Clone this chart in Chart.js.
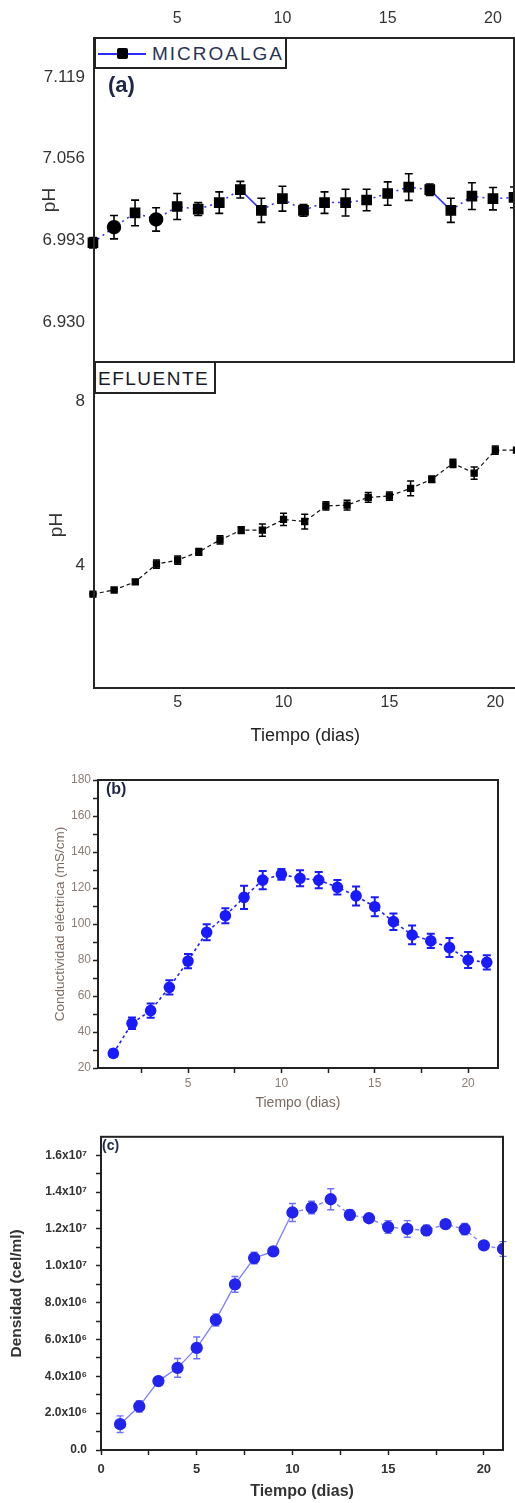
<!DOCTYPE html>
<html>
<head>
<meta charset="utf-8">
<script src="https://cdn.jsdelivr.net/npm/chart.js@4.4.0/dist/chart.umd.min.js"></script>
<style>
body { margin: 0; background: #fff; }
#wrap { position: relative; width: 515px; height: 1503px; overflow: hidden; background: #fff; font-family: 'Liberation Sans', Arial, sans-serif; }
.pane { position: absolute; left: 0; }
.lbl { position: absolute; font-weight: bold; color: #1f2748; }
.box { position: absolute; border: 2px solid #222; background: #fff; box-sizing: border-box; white-space: nowrap; }
</style>
</head>
<body>
<div id="wrap">
  <div class="pane" style="top:0;width:522px;height:372px"><canvas id="cMicro" width="522" height="372"></canvas></div>
  <div class="pane" style="top:352px;width:522px;height:408px"><canvas id="cEflu" width="522" height="408"></canvas></div>
  <div class="pane" style="top:760px;width:515px;height:360px"><canvas id="cCond" width="515" height="360"></canvas></div>
  <div class="pane" style="top:1130px;width:515px;height:373px"><canvas id="cDens" width="515" height="373"></canvas></div>

  <div class="box" style="left:94px;top:37px;width:193px;height:32px">
    <span style="position:absolute;left:2px;top:14px;width:48px;height:2px;background:#2c2cff"></span>
    <span style="position:absolute;left:21px;top:9px;width:11px;height:11px;background:#000;border-radius:2px"></span>
    <span style="position:absolute;left:56px;top:4px;font-size:19px;letter-spacing:2px;color:#2b3352">MICROALGA</span>
  </div>
  <div class="box" style="left:94px;top:361px;width:122px;height:33px">
    <span style="position:absolute;left:2px;top:5px;font-size:19px;letter-spacing:1.5px;color:#1a1a2a">EFLUENTE</span>
  </div>
  <div class="lbl" style="left:108px;top:72px;font-size:22px">(a)</div>
  <div class="lbl" style="left:106px;top:780px;font-size:16px">(b)</div>
  <div class="lbl" style="left:102px;top:1137px;font-size:14px">(c)</div>
</div>

<script>
// days of culture
const days = [1, 2, 3, 4, 5, 6, 7, 8, 9, 10, 11, 12, 13, 14, 15, 16, 17, 18, 19, 20, 21];

// (a) pH - microalga
const phMicro = [6.991, 7.003, 7.014, 7.009, 7.019, 7.017, 7.022, 7.032, 7.016, 7.025, 7.016,
                 7.022, 7.022, 7.024, 7.029, 7.034, 7.032, 7.016, 7.027, 7.025, 7.026];
const phMicroErr = [0.004, 0.009, 0.0099, 0.009, 0.010, 0.005, 0.0083, 0.0064, 0.0093, 0.0096, 0.0045,
                    0.0083, 0.0103, 0.0083, 0.009, 0.0103, 0.0044, 0.0093, 0.0103, 0.0086, 0.008];
const phMicroTicks = [6.930, 6.993, 7.056, 7.119];

// (a) pH - efluente
const phEflu = [3.29, 3.39, 3.59, 4.02, 4.12, 4.32, 4.61, 4.85, 4.85, 5.11, 5.06,
                5.44, 5.46, 5.65, 5.68, 5.87, 6.09, 6.48, 6.24, 6.80, 6.80];
const phEfluErr = [0.02, 0.03, 0.05, 0.1, 0.1, 0.08, 0.1, 0.08, 0.15, 0.15, 0.18,
                   0.1, 0.12, 0.12, 0.1, 0.18, 0.08, 0.1, 0.15, 0.1, 0.05];
const phEfluTicks = [4, 8];
const dayTicksA = [5, 10, 15, 20];

// (b) conductividad
const cond = [28.1, 44.8, 51.9, 64.8, 79.4, 95.4, 104.6, 114.8, 124.4, 127.6, 125.4,
              124.4, 120.4, 115.6, 109.6, 101.3, 93.9, 90.6, 86.9, 80.0, 78.7];
const condErr = [2, 3.2, 4, 4, 4, 4.4, 4.2, 6.5, 5.1, 3, 4.4,
                 4.5, 4, 5.3, 5.3, 4.6, 5.2, 4, 5.3, 4.4, 4];
const condTicks = [20, 40, 60, 80, 100, 120, 140, 160, 180];
const condMinor = [30, 50, 70, 90, 110, 130, 150, 170];
const dayTicks = [5, 10, 15, 20];
const dayMinor = [2.5, 7.5, 12.5, 17.5];

// (c) densidad
const dens = [1.40e6, 2.37e6, 3.74e6, 4.46e6, 5.54e6, 7.06e6, 8.99e6, 1.042e7, 1.078e7, 1.289e7, 1.316e7,
              1.361e7, 1.276e7, 1.258e7, 1.210e7, 1.200e7, 1.192e7, 1.226e7, 1.199e7, 1.111e7, 1.091e7];
const densErr = [4.5e5, 3.1e5, 2.2e5, 5.1e5, 5.9e5, 3.3e5, 4.3e5, 3.1e5, 1.8e5, 4.9e5, 3.4e5,
                 5.7e5, 2.8e5, 2.0e5, 3.4e5, 4.5e5, 2.8e5, 2.4e5, 3.1e5, 2.2e5, 4.0e5];
const densTicks = [0, 2e6, 4e6, 6e6, 8e6, 1e7, 1.2e7, 1.4e7, 1.6e7];
const densLabels = ['0.0', '2.0x10⁶', '4.0x10⁶', '6.0x10⁶', '8.0x10⁶', '1.0x10⁷', '1.2x10⁷', '1.4x10⁷', '1.6x10⁷'];
const densMinor = [1e6, 3e6, 5e6, 7e6, 9e6, 1.1e7, 1.3e7, 1.5e7];
const densDayTicks = [0, 5, 10, 15, 20];

Chart.defaults.font.family = "'Liberation Sans', Arial, sans-serif";
Chart.defaults.animation = false;

function pts(vals) {
    return days.map((d, i) => ({ x: d, y: vals[i] }));
}
function setTicks(list) {
    return axis => { axis.ticks = list.slice().sort((a, b) => a - b).map(v => ({ value: v })); };
}
// fixed axis size, no extra room for overhanging labels
function fixW(w) {
    return a => { a.width = w; a.paddingTop = 0; a.paddingBottom = 0; };
}
function fixH(h) {
    return a => { a.height = h; a.paddingLeft = 0; a.paddingRight = 0; };
}

// vertical error bars drawn through the chart's scales
const errorBars = {
    id: 'errorBars',
    beforeDatasetsDraw(chart) {
        const { ctx, scales: { x, y } } = chart;
        chart.data.datasets.forEach(ds => {
            if (!ds.errors) return;
            ctx.save();
            ctx.strokeStyle = ds.errorColor;
            ctx.lineWidth = ds.errorWidth;
            const cap = ds.errorCap;
            ds.data.forEach((p, i) => {
                const px = x.getPixelForValue(p.x);
                const top = y.getPixelForValue(p.y + ds.errors[i]);
                const bot = y.getPixelForValue(p.y - ds.errors[i]);
                ctx.beginPath();
                ctx.moveTo(px, top); ctx.lineTo(px, bot);
                ctx.moveTo(px - cap, top); ctx.lineTo(px + cap, top);
                ctx.moveTo(px - cap, bot); ctx.lineTo(px + cap, bot);
                ctx.stroke();
            });
            ctx.restore();
        });
    }
};

// box round the plot area
const frame = {
    id: 'frame',
    afterDraw(chart, args, opts) {
        const a = chart.chartArea;
        const ctx = chart.ctx;
        ctx.save();
        ctx.strokeStyle = opts.color || '#222';
        ctx.lineWidth = opts.width || 2;
        ctx.strokeRect(a.left, a.top, a.right - a.left, a.bottom - a.top);
        ctx.restore();
    }
};

// (a) top: microalga
new Chart(document.getElementById('cMicro'), {
    type: 'line',
    data: {
        datasets: [{
            data: pts(phMicro),
            errors: phMicroErr, errorColor: '#000', errorWidth: 1.6, errorCap: 4,
            borderColor: '#3030ff', borderWidth: 1.5, borderDash: [2, 4],
            segment: { borderDash: c => [7, 16].includes(c.p0DataIndex) ? [] : [2, 4] },
            pointStyle: c => [1, 3].includes(c.dataIndex) ? 'circle' : 'rect',
            pointRadius: 6.5, pointBackgroundColor: '#000', pointBorderColor: '#000',
            clip: false
        }]
    },
    options: {
        responsive: false,
        layout: { padding: { top: 0, right: 2.5, bottom: 10, left: 0 } },
        plugins: { legend: { display: false }, tooltip: { enabled: false }, frame: { color: '#262626', width: 2 } },
        scales: {
            x: {
                type: 'linear', position: 'top', min: 1.05, max: 21,
                afterBuildTicks: setTicks(dayTicksA),
                afterFit: fixH(38),
                grid: { display: false, drawTicks: false }, border: { display: false },
                ticks: { font: { size: 16 }, color: '#333', padding: 10, maxRotation: 0 }
            },
            y: {
                min: 6.899, max: 7.149,
                afterBuildTicks: setTicks(phMicroTicks),
                afterFit: fixW(94),
                grid: { display: false, drawTicks: false }, border: { display: false },
                ticks: { callback: v => v.toFixed(3), font: { size: 17 }, color: '#333', padding: 9 },
                title: { display: true, text: 'pH', font: { size: 19 }, color: '#333', padding: { top: 38 } }
            }
        }
    },
    plugins: [errorBars, frame]
});

// (a) bottom: efluente
new Chart(document.getElementById('cEflu'), {
    type: 'line',
    data: {
        datasets: [{
            data: pts(phEflu),
            errors: phEfluErr, errorColor: '#000', errorWidth: 1.5, errorCap: 3.5,
            borderColor: '#111', borderWidth: 1.2, borderDash: [4, 3],
            pointStyle: 'rect', pointRadius: 4.3, pointBackgroundColor: '#000', pointBorderColor: '#000',
            clip: false
        }]
    },
    options: {
        responsive: false,
        layout: { padding: { top: 10, right: 2.5, bottom: 0, left: 0 } },
        plugins: { legend: { display: false }, tooltip: { enabled: false }, frame: { color: '#262626', width: 2 } },
        scales: {
            x: {
                type: 'linear', min: 1.05, max: 21,
                afterBuildTicks: setTicks(dayTicksA),
                afterFit: fixH(72),
                grid: { display: false, drawTicks: false }, border: { display: false },
                ticks: { font: { size: 16 }, color: '#333', padding: 5, maxRotation: 0 },
                title: { display: true, text: 'Tiempo (dias)', font: { size: 18 }, color: '#222', padding: { bottom: 13 } }
            },
            y: {
                min: 1, max: 8.95,
                afterBuildTicks: setTicks(phEfluTicks),
                afterFit: fixW(94),
                grid: { display: false, drawTicks: false }, border: { display: false },
                ticks: { font: { size: 17 }, color: '#333', padding: 9 },
                title: { display: true, text: 'pH', font: { size: 19 }, color: '#333', padding: { top: 45 } }
            }
        }
    },
    plugins: [errorBars, frame]
});

// (b) conductividad electrica
new Chart(document.getElementById('cCond'), {
    type: 'line',
    data: {
        datasets: [{
            data: pts(cond),
            errors: condErr, errorColor: '#1a1aff', errorWidth: 2, errorCap: 4,
            borderColor: '#2020ff', borderWidth: 1.6, borderDash: [3, 3],
            pointStyle: 'circle', pointRadius: 5, pointBackgroundColor: '#1a1aff', pointBorderColor: '#1a1aff'
        }]
    },
    options: {
        responsive: false,
        layout: { padding: { top: 20, right: 17, bottom: 0, left: 0 } },
        plugins: { legend: { display: false }, tooltip: { enabled: false }, frame: { color: '#222', width: 2 } },
        scales: {
            x: {
                type: 'linear', min: 0.18, max: 21.6,
                afterBuildTicks: setTicks(dayTicks.concat(dayMinor)),
                afterFit: fixH(52),
                grid: { drawOnChartArea: false, drawTicks: true, tickLength: 5, tickColor: '#222', tickWidth: 1.5 },
                border: { display: false },
                ticks: { callback: v => dayTicks.includes(v) ? v : '', font: { size: 12 }, color: '#8a7d75', padding: 3, maxRotation: 0, autoSkip: false },
                title: { display: true, text: 'Tiempo (dias)', font: { size: 14 }, color: '#7a6a60', padding: { bottom: 8 } }
            },
            y: {
                min: 20, max: 180,
                afterBuildTicks: setTicks(condTicks.concat(condMinor)),
                afterFit: fixW(98),
                grid: { drawOnChartArea: false, drawTicks: true, tickLength: 5, tickColor: '#222', tickWidth: 1.5 },
                border: { display: false },
                ticks: { callback: v => condTicks.includes(v) ? v : '', font: { size: 12 }, color: '#8a7d75', padding: 2, autoSkip: false },
                title: { display: true, text: 'Conductividad eléctrica (mS/cm)', font: { size: 13.5 }, color: '#7a6a60', padding: { top: 52 } }
            }
        }
    },
    plugins: [errorBars, frame]
});

// (c) densidad celular
new Chart(document.getElementById('cDens'), {
    type: 'line',
    data: {
        datasets: [{
            data: pts(dens),
            errors: densErr, errorColor: '#7070ff', errorWidth: 1.4, errorCap: 3.5,
            borderColor: '#7d7dff', borderWidth: 1.3,
            segment: { borderDash: c => c.p0DataIndex >= 9 ? [4, 3] : [] },
            pointStyle: 'circle', pointRadius: 5.5, pointBackgroundColor: '#2323ee', pointBorderColor: '#2323ee'
        }]
    },
    options: {
        responsive: false,
        layout: { padding: { top: 5, right: 12, bottom: 0, left: 0 } },
        plugins: { legend: { display: false }, tooltip: { enabled: false }, frame: { color: '#222', width: 2 } },
        scales: {
            x: {
                type: 'linear', min: 0, max: 21,
                afterBuildTicks: setTicks(densDayTicks.concat(dayMinor)),
                afterFit: fixH(53),
                grid: { drawOnChartArea: false, drawTicks: true, tickLength: 5, tickColor: '#222', tickWidth: 1.5 },
                border: { display: false },
                ticks: { callback: v => densDayTicks.includes(v) ? v : '', font: { size: 13, weight: 'bold' }, color: '#333', padding: 7, maxRotation: 0, autoSkip: false },
                title: { display: true, text: 'Tiempo (dias)', font: { size: 16, weight: 'bold' }, color: '#333', padding: { bottom: 2 } }
            },
            y: {
                min: 0, max: 1.7e7,
                afterBuildTicks: setTicks(densTicks.concat(densMinor)),
                afterFit: fixW(101),
                grid: { drawOnChartArea: false, drawTicks: true, tickLength: 5, tickColor: '#222', tickWidth: 1.5 },
                border: { display: false },
                ticks: {
                    callback: v => { const k = densTicks.indexOf(v); return k >= 0 ? densLabels[k] : ''; },
                    font: { size: 12, weight: 'bold' }, color: '#333', padding: 9, autoSkip: false
                },
                title: { display: true, text: 'Densidad (cel/ml)', font: { size: 15.5, weight: 'bold' }, color: '#333', padding: { top: 7 } }
            }
        }
    },
    plugins: [errorBars, frame]
});
</script>
</body>
</html>
